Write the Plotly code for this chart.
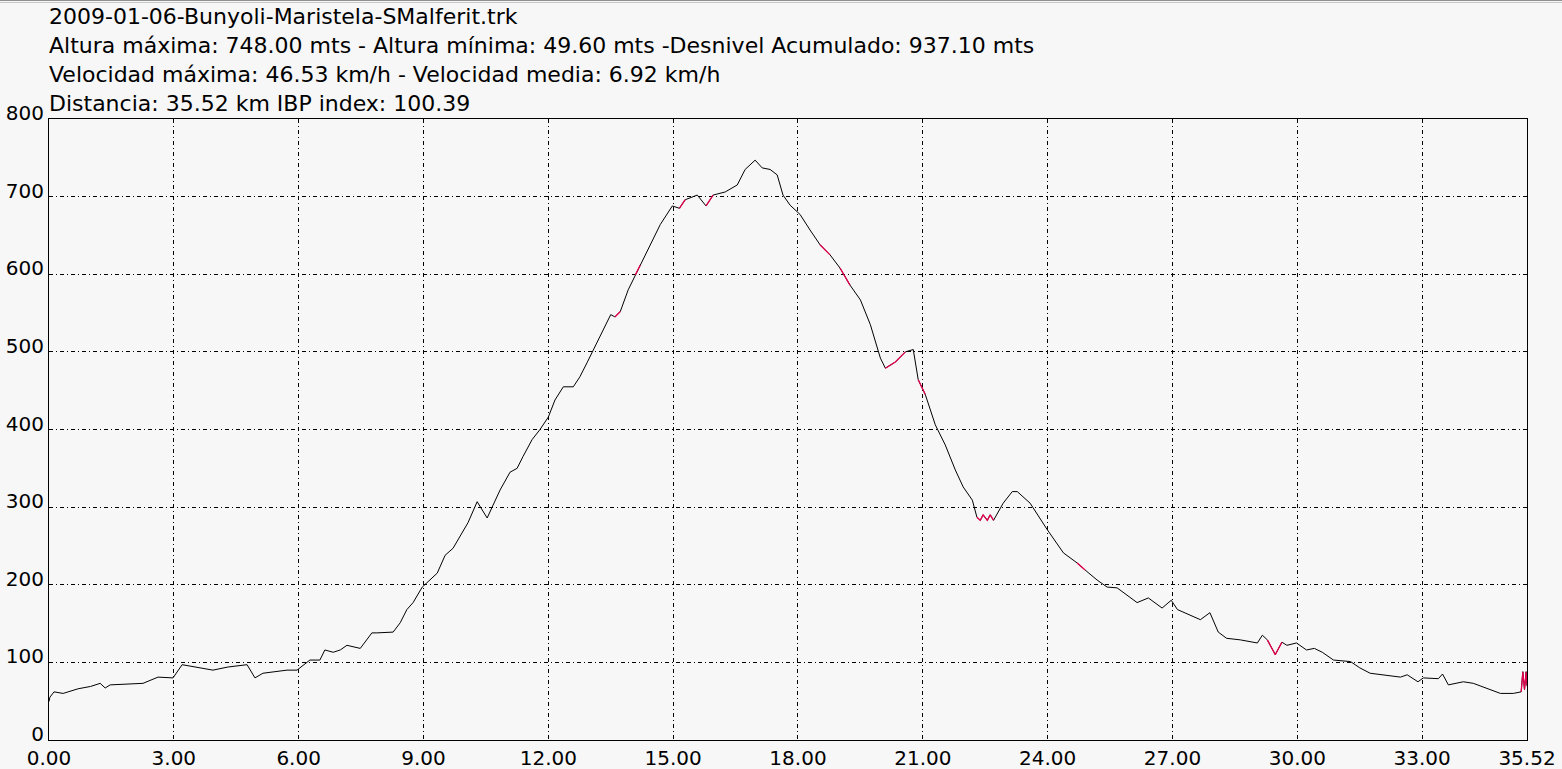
import plotly.graph_objects as go

dist_km = [0.00, 0.02, 0.12, 0.34, 0.70, 1.00, 1.23, 1.35, 1.47, 1.80, 2.26, 2.62, 2.98,
           3.20, 3.63, 3.94, 4.30, 4.76, 4.95, 5.14, 5.72, 5.96, 6.27, 6.51, 6.63, 6.83,
           7.00, 7.16, 7.48, 7.76, 7.88, 8.27, 8.44, 8.60, 8.75, 8.97, 9.33, 9.52, 9.71,
           10.07, 10.29, 10.53, 10.65, 10.84, 11.08, 11.25, 11.39, 11.61, 11.80, 12.00,
           12.16, 12.36, 12.60, 12.76, 12.93, 13.25, 13.50, 13.60, 13.73, 13.92, 14.09,
           14.21, 14.45, 14.69, 14.98, 15.15, 15.29, 15.58, 15.79, 15.96, 16.25, 16.54,
           16.73, 16.97, 17.14, 17.33, 17.50, 17.64, 17.81, 18.05, 18.29, 18.53, 18.77,
           19.01, 19.25, 19.50, 19.74, 19.98, 20.10, 20.34, 20.58, 20.77, 20.89, 21.06,
           21.30, 21.54, 21.78, 21.97, 22.19, 22.30, 22.38, 22.45, 22.55, 22.62, 22.70,
           22.81, 22.93, 23.15, 23.27, 23.58, 23.99, 24.38, 24.71, 24.90, 25.19, 25.43,
           25.67, 26.15, 26.42, 26.75, 26.97, 27.12, 27.67, 27.90, 28.10, 28.30, 28.63,
           29.04, 29.16, 29.28, 29.47, 29.63, 29.75, 29.98, 30.22, 30.41, 30.60, 30.87,
           31.28, 31.50, 31.75, 32.48, 32.64, 32.90, 33.03, 33.39, 33.49, 33.63, 33.99,
           34.23, 34.47, 34.88, 35.19, 35.38, 35.42, 35.46, 35.50, 35.52]
alt_m = [49.6, 55, 62, 60, 66, 69, 73, 67, 71, 72, 73, 81, 80,
         97, 93, 90, 94, 97, 80, 86, 90, 90, 103, 103, 116, 113,
         116, 122, 118, 138, 138, 139, 151, 168, 177, 197, 215, 238, 247,
         280, 307, 286, 300, 322, 345, 350, 365, 387, 400, 416,
         438, 455, 455, 468, 486, 522, 548, 545, 552, 580, 599,
         612, 638, 664, 688, 685, 696, 702, 688, 702, 706, 715,
         735, 747, 737, 735, 728, 702, 689, 677, 657, 638, 625,
         608, 586, 567, 535, 492, 479, 487, 500, 503, 464, 445,
         406, 380, 348, 326, 309, 287, 283, 290, 283, 290, 283,
         294, 305, 320, 320, 305, 271, 241, 228, 219, 206, 197,
         196, 177, 183, 170, 180, 168, 155, 164, 139, 131, 129,
         125, 135, 129, 110, 126, 122, 125, 116, 118, 113, 103,
         101, 93, 86, 81, 84, 75, 80, 79, 85, 71, 75,
         73, 68, 60, 60, 62, 88, 65, 88, 70]

# Stretches drawn in red (km start, km end)
red_start = [13.55, 14.05, 15.15, 15.75, 18.50, 19.00, 20.10, 20.85, 22.30, 24.60, 29.25, 35.38]
red_end   = [13.80, 14.25, 15.40, 16.00, 18.80, 19.25, 20.60, 21.06, 22.75, 24.95, 29.65, 35.52]

x_ticks = [0, 3, 6, 9, 12, 15, 18, 21, 24, 27, 30, 33, 35.52]
y_ticks = [0, 100, 200, 300, 400, 500, 600, 700, 800]

title_lines = [
    "2009-01-06-Bunyoli-Maristela-SMalferit.trk",
    "Altura máxima: 748.00 mts - Altura mínima: 49.60 mts -Desnivel Acumulado: 937.10 mts",
    "Velocidad máxima: 46.53 km/h - Velocidad media: 6.92 km/h",
    "Distancia: 35.52 km IBP index: 100.39",
]

# build red overlay
red_x, red_y = [], []
for s, e in zip(red_start, red_end):
    seg = [(x, y) for x, y in zip(dist_km, alt_m) if s <= x <= e]
    for x, y in seg:
        red_x.append(x)
        red_y.append(y)
    red_x.append(None)
    red_y.append(None)

FONT = "DejaVu Sans, Verdana, sans-serif"
BG = "#F7F7F7"

fig = go.Figure()
fig.add_trace(go.Scatter(x=dist_km, y=alt_m, mode="lines",
                         line=dict(color="black", width=1), hoverinfo="skip"))
fig.add_trace(go.Scatter(x=red_x, y=red_y, mode="lines",
                         line=dict(color="#E4004E", width=1.3), hoverinfo="skip",
                         connectgaps=False))

W, H = 1562, 769
L, R, T, B = 49, 35, 119, 29
ph = H - T - B
pw = W - L - R
line_centers = [17, 46, 75, 103]  # page pixels
for txt, py in zip(title_lines, line_centers):
    fig.add_annotation(text=txt, xref="paper", yref="paper", x=-2 / pw,
                       y=(H - B - py) / ph,
                       xanchor="left", yanchor="middle", showarrow=False,
                       font=dict(family=FONT, size=22, color="black"))

fig.add_shape(type="line", xref="paper", yref="paper", x0=-L / pw, x1=1 + R / pw,
              y0=(H - B - 0.5) / ph, y1=(H - B - 0.5) / ph, line=dict(color="#909090", width=1))
fig.add_shape(type="line", xref="paper", yref="paper", x0=-L / pw, x1=1 + R / pw,
              y0=(H - B - 2.5) / ph, y1=(H - B - 2.5) / ph, line=dict(color="#C8C8C8", width=1))

grid_dash = "4px,3px,1px,3px"
fig.update_layout(
    width=W, height=H,
    margin=dict(l=L, r=R, t=T, b=B, autoexpand=False),
    paper_bgcolor=BG, plot_bgcolor=BG,
    showlegend=False,
    hovermode=False,
    font=dict(family=FONT, size=20, color="black"),
    xaxis=dict(range=[0, 35.52], tickvals=x_ticks, automargin=False,
               ticktext=[f"{v:.2f}" for v in x_ticks],
               showgrid=True, gridcolor="black", gridwidth=1, griddash=grid_dash,
               showline=True, linecolor="black", linewidth=1, mirror=True,
               ticks="", ticklen=0, zeroline=False, ticklabelstandoff=0),
    yaxis=dict(range=[0, 800], tickvals=y_ticks, automargin=False,
               showgrid=True, gridcolor="black", gridwidth=1, griddash=grid_dash,
               showline=True, linecolor="black", linewidth=1, mirror=True,
               ticks="", ticklen=0, zeroline=False, ticklabelstandoff=0, ticklabelshift=-6),
)
fig.write_html("out.html", config={"displayModeBar": False, "staticPlot": True},
               post_script="document.body.style.margin='0';document.body.style.overflow='hidden';"
                           "document.body.style.background='#F7F7F7';")
